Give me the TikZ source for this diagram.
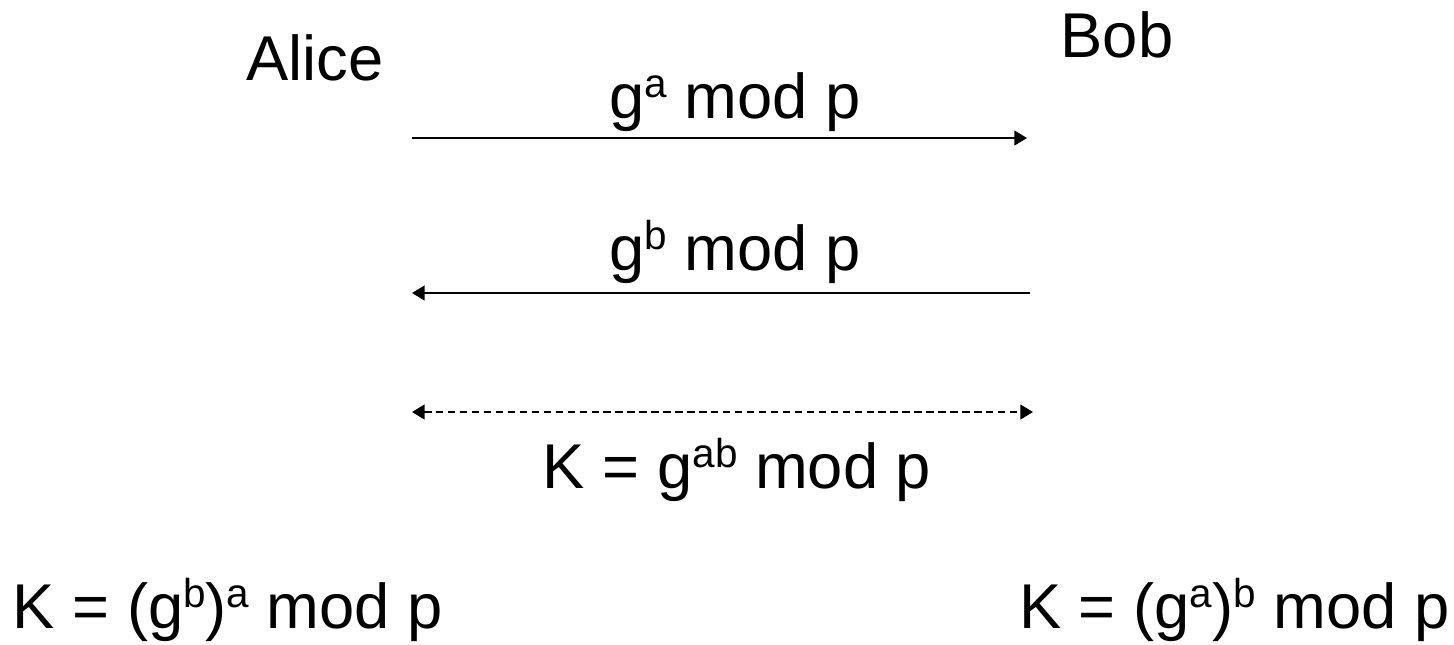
\documentclass[tikz,border=0pt]{standalone}
\usepackage{fontspec}
\setmainfont{Liberation Sans}
\usetikzlibrary{arrows.meta}
\newcommand{\esp}[1]{\raisebox{0.32em}{\fontsize{11.5}{12}\selectfont #1}}

\begin{document}
\begin{tikzpicture}[x=0.01cm,y=-0.01cm,
    testo/.style={font=\fontsize{18}{22}\selectfont, inner sep=0pt, anchor=base},
    punta/.tip={Triangle[length=3.6pt,width=4.2pt]},
    freccia/.style={line width=0.6pt, -punta}]
        \useasboundingbox (0,0) rectangle (1454,644);
        % Nomi
        \node[testo] (alice) at (315,80) {Alice};
        \node[testo] (bob) at (1117,57) {Bob};
        % Messaggio da Alice a Bob
        \coordinate (a1) at (412,138);
        \coordinate (b1) at (1027,138);
        \draw[freccia] (a1) -- (b1);
        \node[testo] (msga) at (735,118) {g\esp{a} mod p};
        % Messaggio da Bob ad Alice
        \coordinate (a2) at (412,293);
        \coordinate (b2) at (1030,293);
        \draw[freccia] (b2) -- (a2);
        \node[testo] (msgb) at (735,270) {g\esp{b} mod p};
        % Chiave condivisa
        \coordinate (a3) at (412,412);
        \coordinate (b3) at (1033,412);
        \draw[freccia, punta-punta, dash pattern=on 2.1pt off 1.3pt] (a3) -- (b3);
        \node[testo] (chiave) at (737,488) {K = g\esp{ab} mod p};
        % Calcolo della chiave
        \node[testo, anchor=base west] (ka) at (12,628) {K = (g\esp{b})\esp{a} mod p};
        \node[testo, anchor=base east] (kb) at (1450,628) {K = (g\esp{a})\esp{b} mod p};
    \end{tikzpicture}
\end{document}
